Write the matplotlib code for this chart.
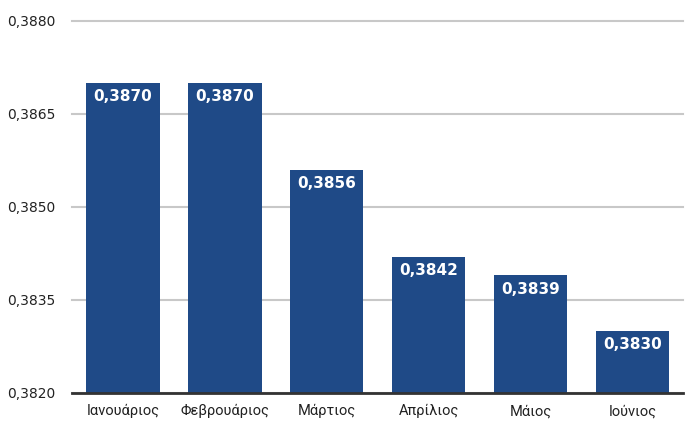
import matplotlib.pyplot as plt
from matplotlib.ticker import FuncFormatter

months = ["Ιανουάριος", "Φεβρουάριος", "Μάρτιος", "Απρίλιος", "Μάιος", "Ιούνιος"]
rates = [0.3870, 0.3870, 0.3856, 0.3842, 0.3839, 0.3830]
yticks = [0.3820, 0.3835, 0.3850, 0.3865, 0.3880]

plt.rcParams['font.family'] = ['Roboto', 'DejaVu Sans']

fig = plt.figure(figsize=(7, 4.34), dpi=100)
ax = fig.add_axes([0.103, 0.0945, 0.873, 0.8575])

bar_color = "#1f4a87"
x = range(len(months))
ax.bar(x, rates, width=0.72, color=bar_color, zorder=3)

# value labels inside the top of each bar
for xi, v in zip(x, rates):
    ax.annotate(f"{v:.4f}".replace(".", ","), (xi, v), xytext=(0, -10),
                textcoords="offset points", ha="center", va="center",
                color="white", fontsize=11, fontweight="bold",
                family="DejaVu Sans", zorder=4)

ax.set_xlim(-0.5, len(months) - 0.5)
ax.set_ylim(yticks[0], yticks[-1])
ax.set_yticks(yticks)
ax.yaxis.set_major_formatter(FuncFormatter(lambda v, p: f"{v:.4f}".replace(".", ",")))
ax.set_xticks(list(x))
ax.set_xticklabels(months)

ax.grid(axis="y", color="#c8c8c8", linewidth=1.5, zorder=0)
for gl in ax.get_ygridlines():
    gl.set_clip_on(False)
for s in ["top", "right", "left"]:
    ax.spines[s].set_visible(False)
ax.spines["bottom"].set_color("#333333")
ax.spines["bottom"].set_linewidth(2)
ax.spines["bottom"].set_zorder(5)
ax.tick_params(axis="both", length=0, labelsize=10.5, colors="#222222")
ax.tick_params(axis="y", pad=12)
ax.tick_params(axis="x", pad=8)
for lbl in ax.get_yticklabels():
    lbl.set_family("DejaVu Sans")
    lbl.set_fontsize(10)

fig.savefig("out.png", dpi=100)
